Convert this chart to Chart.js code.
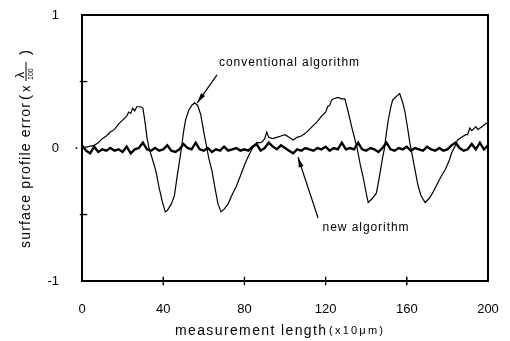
<!DOCTYPE html>
<html>
<head>
<meta charset="utf-8">
<script src="https://cdn.jsdelivr.net/npm/chart.js@4/dist/chart.umd.min.js"></script>
<style>
  html, body { margin: 0; padding: 0; background: #fff; }
  #wrap { position: relative; width: 510px; height: 341px; }
  #frame { position: absolute; box-sizing: border-box; border: 2px solid #000; border-top-width: 1.5px; pointer-events: none; }
  .tick { position: absolute; background: #000; pointer-events: none; }
</style>
</head>
<body>
<div id="wrap"><canvas id="chart" width="510" height="341"></canvas><div id="frame"></div></div>
<script>
// conventional algorithm trace (x in units of 10 µm, y in λ/100)
const CONV_X = [0, 3, 6, 8, 10, 12, 14, 16, 18, 20, 22, 23, 24, 25, 26, 27, 29, 30, 31, 32, 33, 35, 36.5, 38, 39.5, 41, 42, 44, 45.5, 47, 48, 49, 50, 51, 52.5, 54, 55.5, 57, 58.5, 60, 61, 62.5, 64, 65.5, 67, 68.5, 70, 72, 74, 76, 77, 78, 80, 82, 84, 86, 88, 89, 90, 91, 92, 94, 96, 98, 100, 102, 104, 106, 108, 110, 112, 114, 116, 118, 120, 121, 122, 123, 124, 126, 128, 129.5, 131, 133, 135.5, 137, 138.5, 140, 141, 143, 145, 146, 147, 148, 149, 150, 151, 152, 153, 155, 156.5, 158, 159, 160.5, 161.5, 163, 164, 165.5, 167, 169, 171, 173, 175, 177, 179, 181, 182, 184, 185, 187, 189, 190, 191, 192, 194, 195, 197, 199.5]
const CONV_Y = [0.0, 0.01, 0.02, 0.04, 0.07, 0.09, 0.12, 0.14, 0.18, 0.21, 0.24, 0.27, 0.26, 0.30, 0.28, 0.31, 0.31, 0.30, 0.20, 0.08, 0.0, -0.10, -0.18, -0.30, -0.40, -0.48, -0.47, -0.42, -0.36, -0.20, -0.10, 0.0, 0.12, 0.21, 0.28, 0.32, 0.34, 0.32, 0.25, 0.12, 0.04, -0.08, -0.17, -0.30, -0.42, -0.48, -0.46, -0.42, -0.35, -0.29, -0.25, -0.21, -0.13, -0.06, 0.0, 0.04, 0.04, 0.05, 0.07, 0.12, 0.08, 0.07, 0.08, 0.09, 0.10, 0.08, 0.06, 0.08, 0.09, 0.11, 0.14, 0.17, 0.20, 0.24, 0.27, 0.31, 0.32, 0.36, 0.37, 0.38, 0.37, 0.37, 0.28, 0.15, 0.0, -0.12, -0.22, -0.34, -0.41, -0.38, -0.34, -0.26, -0.17, -0.08, 0.0, 0.12, 0.22, 0.30, 0.36, 0.39, 0.41, 0.34, 0.28, 0.14, 0.04, -0.08, -0.16, -0.28, -0.36, -0.41, -0.38, -0.33, -0.27, -0.21, -0.16, -0.09, -0.04, 0.02, 0.06, 0.08, 0.10, 0.10, 0.15, 0.13, 0.16, 0.14, 0.16, 0.19]

// new algorithm trace
const NEW_X = [0, 2, 4, 6, 8, 10, 12, 14, 16, 18, 20, 22, 24, 26, 28, 30, 32, 34, 36, 38, 40, 42, 44, 46, 48, 50, 52, 54, 56, 58, 60, 62, 64, 66, 68, 70, 72, 74, 76, 78, 80, 82, 84, 86, 88, 90, 92, 94, 96, 98, 100, 102, 104, 106, 108, 110, 112, 114, 116, 118, 120, 122, 124, 126, 128, 130, 132, 134, 136, 138, 140, 142, 144, 146, 148, 150, 152, 154, 156, 158, 160, 162, 164, 166, 168, 170, 172, 174, 176, 178, 180, 182, 184, 186, 188, 190, 192, 194, 196, 198, 200]
const NEW_Y = [0.02, -0.02, -0.04, 0.01, -0.03, -0.01, -0.02, 0.00, -0.02, -0.01, -0.03, 0.01, -0.04, -0.01, 0.00, 0.04, -0.01, -0.02, 0.00, -0.02, -0.01, 0.02, -0.02, -0.03, -0.01, 0.03, 0.00, -0.01, 0.04, -0.01, -0.02, 0.00, -0.03, -0.01, -0.02, 0.01, -0.02, -0.01, 0.00, -0.02, -0.01, -0.02, 0.01, 0.03, -0.02, 0.00, 0.04, 0.01, -0.01, 0.02, 0.00, -0.02, -0.04, -0.01, -0.02, 0.00, -0.01, -0.02, 0.00, -0.01, 0.01, -0.02, 0.00, -0.01, 0.04, -0.01, 0.00, -0.01, 0.04, -0.01, -0.02, 0.00, -0.01, -0.03, 0.00, 0.04, -0.01, -0.02, 0.00, -0.01, 0.01, -0.02, 0.00, -0.01, -0.02, 0.01, -0.01, -0.02, 0.00, -0.02, -0.01, 0.02, 0.04, 0.00, -0.02, -0.01, 0.03, -0.01, 0.04, -0.01, 0.02]

const X_TICKS = [40, 80, 120, 160]
const Y_TICKS = [-1, 0, 1]
const Y_MINOR = [-0.5, 0.5]

const FONT = '"Helvetica Neue", Helvetica, Arial, sans-serif'
const noPad = s => { s.paddingTop = 0; s.paddingBottom = 0; s.paddingLeft = 0; s.paddingRight = 0 }

// draws text char by char, spread out to roughly the given width
function spacedText(ctx, str, x, y, width) {
  const chars = [...str]
  const widths = chars.map(c => ctx.measureText(c).width)
  const total = widths.reduce((s, w) => s + w, 0)
  const gap = Math.max(0, (width - total) / Math.max(1, chars.length - 1))
  let cx = x
  chars.forEach((c, i) => { ctx.fillText(c, cx, y); cx += widths[i] + gap })
}

function arrow(ctx, x0, y0, x1, y1) {
  ctx.beginPath()
  ctx.moveTo(x0, y0)
  ctx.lineTo(x1, y1)
  ctx.stroke()
  const a = Math.atan2(y1 - y0, x1 - x0)
  const len = 10, half = 2.5
  ctx.beginPath()
  ctx.moveTo(x1, y1)
  ctx.lineTo(x1 - len * Math.cos(a) + half * Math.sin(a), y1 - len * Math.sin(a) - half * Math.cos(a))
  ctx.lineTo(x1 - len * Math.cos(a) - half * Math.sin(a), y1 - len * Math.sin(a) + half * Math.cos(a))
  ctx.closePath()
  ctx.fill()
}

// frame and crossing ticks, placed through the scales
function drawFrame(ctx, x, y) {
  const l = x.getPixelForValue(0), r = x.getPixelForValue(200)
  const t = y.getPixelForValue(1), b = y.getPixelForValue(-1)
  ctx.lineWidth = 2
  ctx.beginPath()
  ctx.moveTo(l, t); ctx.lineTo(l, b); ctx.lineTo(r, b); ctx.lineTo(r, t); ctx.lineTo(l, t)
  ctx.stroke()
  X_TICKS.forEach(v => ctx.fillRect(x.getPixelForValue(v) - 0.6, b - 4.3, 1.3, 8.6))
  Y_MINOR.forEach(v => ctx.fillRect(l - 2.3, y.getPixelForValue(v) - 0.6, 7.6, 1.3))
  ctx.fillRect(l - 6.4, y.getPixelForValue(0) - 0.6, 1.6, 1.6)
}

// same frame again as page elements on top of the canvas
function placeFrame(x, y) {
  const l = x.getPixelForValue(0), r = x.getPixelForValue(200)
  const t = y.getPixelForValue(1), b = y.getPixelForValue(-1)
  const f = document.getElementById('frame')
  f.style.left = (l - 1) + 'px'
  f.style.top = (t - 1) + 'px'
  f.style.width = (r - l + 2) + 'px'
  f.style.height = (b - t + 2) + 'px'
  const wrap = document.getElementById('wrap')
  wrap.querySelectorAll('.tick').forEach(n => n.remove())
  X_TICKS.forEach(v => {
    const d = document.createElement('div')
    d.className = 'tick'
    Object.assign(d.style, { left: (x.getPixelForValue(v) - 0.6) + 'px', top: (b - 4) + 'px', width: '1.3px', height: '8px' })
    wrap.appendChild(d)
  })
  Y_MINOR.forEach(v => {
    const d = document.createElement('div')
    d.className = 'tick'
    Object.assign(d.style, { left: (l - 2) + 'px', top: (y.getPixelForValue(v) - 0.6) + 'px', width: '7px', height: '1.3px' })
    wrap.appendChild(d)
  })
}

const decorations = {
  id: 'decorations',
  afterDraw(chart) {
    const { ctx, scales: { x, y } } = chart
    ctx.save()
    ctx.strokeStyle = '#000'
    ctx.fillStyle = '#000'
    drawFrame(ctx, x, y)
    ctx.lineWidth = 1.2

    // annotations
    ctx.font = '12px ' + FONT
    ctx.textBaseline = 'middle'
    ctx.textAlign = 'left'
    spacedText(ctx, 'conventional algorithm', x.getPixelForValue(67.5), y.getPixelForValue(0.64), 140)
    arrow(ctx, x.getPixelForValue(66.5), y.getPixelForValue(0.55), x.getPixelForValue(56.8), y.getPixelForValue(0.34))
    spacedText(ctx, 'new algorithm', x.getPixelForValue(118.5), y.getPixelForValue(-0.6), 86)
    arrow(ctx, x.getPixelForValue(116.3), y.getPixelForValue(-0.526), x.getPixelForValue(106.4), y.getPixelForValue(-0.07))

    // x axis title
    ctx.font = '14px ' + FONT
    spacedText(ctx, 'measurement length', 175, 331, 151)
    ctx.font = '11px ' + FONT
    spacedText(ctx, '(x10μm)', 329, 331, 54)

    // y axis title, rotated
    ctx.save()
    ctx.translate(26, 248)
    ctx.rotate(-Math.PI / 2)
    ctx.font = '14px ' + FONT
    spacedText(ctx, 'surface profile error', 0, 0, 145)
    ctx.font = '15px ' + FONT
    ctx.fillText('(', 148, 0)
    ctx.font = '13px ' + FONT
    ctx.fillText('x', 156, 0)
    ctx.font = '12px ' + FONT
    ctx.fillText('λ', 170, -5)
    ctx.lineWidth = 1
    ctx.beginPath(); ctx.moveTo(167, 0); ctx.lineTo(186, 0); ctx.stroke()
    ctx.font = '7px ' + FONT
    ctx.fillText('100', 168, 5)
    ctx.font = '15px ' + FONT
    ctx.fillText(')', 193, 0)
    ctx.restore()
    ctx.restore()

    placeFrame(x, y)
  }
}

new Chart(document.getElementById('chart'), {
  type: 'line',
  data: {
    datasets: [
      {
        label: 'conventional algorithm',
        data: CONV_X.map((v, i) => ({ x: v, y: CONV_Y[i] })),
        borderColor: '#000', borderWidth: 1.2, pointRadius: 0, tension: 0, fill: false
      },
      {
        label: 'new algorithm',
        data: NEW_X.map((v, i) => ({ x: v, y: NEW_Y[i] })),
        borderColor: '#000', borderWidth: 2.4, pointRadius: 0, tension: 0, fill: false
      }
    ]
  },
  options: {
    responsive: false,
    animation: false,
    layout: { padding: { top: 15, right: 22, left: 0, bottom: 0 } },
    plugins: { legend: { display: false }, tooltip: { enabled: false } },
    scales: {
      x: {
        type: 'linear', min: 0, max: 200,
        afterFit: s => { s.height = 60; noPad(s) },
        grid: { display: false },
        border: { display: true, color: '#000', width: 2 },
        ticks: { stepSize: 40, color: '#000', font: { size: 13 }, padding: 13, maxRotation: 0 }
      },
      y: {
        type: 'linear', min: -1, max: 1,
        afterFit: s => { s.width = 82; noPad(s) },
        grid: { display: false },
        border: { display: true, color: '#000', width: 2 },
        ticks: {
          stepSize: 0.5, color: '#000', font: { size: 13 }, padding: 15,
          callback: v => Y_TICKS.includes(v) ? String(v) : ''
        }
      }
    }
  },
  plugins: [decorations]
})
</script>
</body>
</html>
